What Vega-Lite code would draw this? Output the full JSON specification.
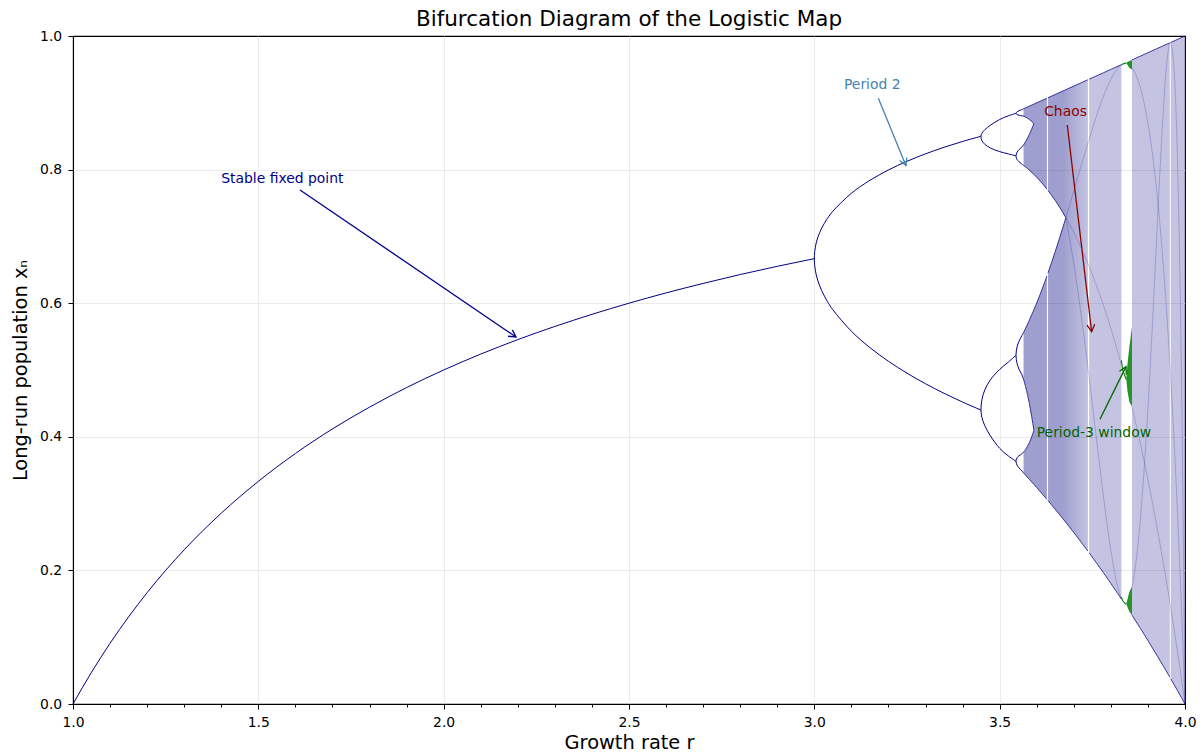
{
  "$schema": "https://vega.github.io/schema/vega-lite/v6.json",
  "width": 1112,
  "height": 668,
  "autosize": {"type": "none"},
  "padding": {"left": 73, "top": 36, "right": 19, "bottom": 49},
  "title": {"text": "Bifurcation Diagram of the Logistic Map", "font": "DejaVu Sans", "fontSize": 21.5, "fontWeight": "normal", "color": "#000000", "offset": -1},
  "config": {
    "view": {"stroke": "#000000", "strokeWidth": 1.1},
    "axis": {"domainColor": "#000000", "domainWidth": 1.1, "tickColor": "#000000", "tickWidth": 1, "labelColor": "#000000", "titleColor": "#000000", "labelFont": "DejaVu Sans", "titleFont": "DejaVu Sans", "labelFontSize": 13.9, "titleFontSize": 19.4, "titleFontWeight": "normal", "gridColor": "#e6e6e6", "gridWidth": 0.8}
  },
  "datasets": {
    "fixed": [{"r":1.0,"x":0},{"r":1.05,"x":0.0476},{"r":1.1,"x":0.0909},{"r":1.2,"x":0.1667},{"r":1.3,"x":0.2308},{"r":1.4,"x":0.2857},{"r":1.5,"x":0.3333},{"r":1.6,"x":0.375},{"r":1.7,"x":0.4118},{"r":1.8,"x":0.4444},{"r":1.9,"x":0.4737},{"r":2.0,"x":0.5},{"r":2.1,"x":0.5238},{"r":2.2,"x":0.5455},{"r":2.3,"x":0.5652},{"r":2.4,"x":0.5833},{"r":2.5,"x":0.6},{"r":2.6,"x":0.6154},{"r":2.7,"x":0.6296},{"r":2.8,"x":0.6429},{"r":2.9,"x":0.6552},{"r":3.0,"x":0.6667}],
    "p2": [{"k":1,"r":3.4495,"x":0.4401},{"k":2,"r":3.4,"x":0.45196},{"k":3,"r":3.35,"x":0.46509},{"k":4,"r":3.3,"x":0.47943},{"k":5,"r":3.25,"x":0.49526},{"k":6,"r":3.2,"x":0.51304},{"k":7,"r":3.15,"x":0.53349},{"k":8,"r":3.1,"x":0.55801},{"k":9,"r":3.05,"x":0.59016},{"k":10,"r":3.035,"x":0.60283},{"k":11,"r":3.02,"x":0.61862},{"k":12,"r":3.01,"x":0.63285},{"k":13,"r":3.005,"x":0.64285},{"k":14,"r":3.001,"x":0.65608},{"k":15,"r":3.0,"x":0.66667},{"k":16,"r":3.001,"x":0.67715},{"k":17,"r":3.005,"x":0.68994},{"k":18,"r":3.01,"x":0.69938},{"k":19,"r":3.02,"x":0.71251},{"k":20,"r":3.035,"x":0.72665},{"k":21,"r":3.05,"x":0.7377},{"k":22,"r":3.1,"x":0.76457},{"k":23,"r":3.15,"x":0.78397},{"k":24,"r":3.2,"x":0.79946},{"k":25,"r":3.25,"x":0.81243},{"k":26,"r":3.3,"x":0.8236},{"k":27,"r":3.35,"x":0.83342},{"k":28,"r":3.4,"x":0.84215},{"k":29,"r":3.4495,"x":0.8499}],
    "p4": [
      {"b":"up","k":1,"r":3.544,"x":0.8206},{"b":"up","k":2,"r":3.52,"x":0.824},{"b":"up","k":3,"r":3.5,"x":0.8269},{"b":"up","k":4,"r":3.475,"x":0.8324},{"b":"up","k":5,"r":3.46,"x":0.8378},{"b":"up","k":6,"r":3.452,"x":0.8436},{"b":"up","k":7,"r":3.4495,"x":0.8499},{"b":"up","k":8,"r":3.452,"x":0.8543},{"b":"up","k":9,"r":3.46,"x":0.8597},{"b":"up","k":10,"r":3.475,"x":0.8665},{"b":"up","k":11,"r":3.5,"x":0.875},{"b":"up","k":12,"r":3.52,"x":0.8798},{"b":"up","k":13,"r":3.544,"x":0.8843},
      {"b":"lo","k":1,"r":3.544,"x":0.3633},{"b":"lo","k":2,"r":3.52,"x":0.3728},{"b":"lo","k":3,"r":3.5,"x":0.3828},{"b":"lo","k":4,"r":3.475,"x":0.4014},{"b":"lo","k":5,"r":3.46,"x":0.4165},{"b":"lo","k":6,"r":3.452,"x":0.4292},{"b":"lo","k":7,"r":3.4495,"x":0.4401},{"b":"lo","k":8,"r":3.452,"x":0.4554},{"b":"lo","k":9,"r":3.46,"x":0.4703},{"b":"lo","k":10,"r":3.475,"x":0.4853},{"b":"lo","k":11,"r":3.5,"x":0.5009},{"b":"lo","k":12,"r":3.52,"x":0.5103},{"b":"lo","k":13,"r":3.544,"x":0.522}
    ],
    "p8": [
      {"b":"T","k":1,"r":3.5644,"x":0.88},{"b":"T","k":2,"r":3.56,"x":0.8805},{"b":"T","k":3,"r":3.552,"x":0.8814},{"b":"T","k":4,"r":3.547,"x":0.8825},{"b":"T","k":5,"r":3.544,"x":0.8843},{"b":"T","k":6,"r":3.547,"x":0.8865},{"b":"T","k":7,"r":3.552,"x":0.888},{"b":"T","k":8,"r":3.56,"x":0.8898},{"b":"T","k":9,"r":3.5644,"x":0.891},
      {"b":"UL","k":1,"r":3.5644,"x":0.806},{"b":"UL","k":2,"r":3.56,"x":0.8083},{"b":"UL","k":3,"r":3.552,"x":0.8118},{"b":"UL","k":4,"r":3.547,"x":0.8151},{"b":"UL","k":5,"r":3.544,"x":0.8206},{"b":"UL","k":6,"r":3.547,"x":0.8261},{"b":"UL","k":7,"r":3.552,"x":0.8298},{"b":"UL","k":8,"r":3.56,"x":0.8339},{"b":"UL","k":9,"r":3.5644,"x":0.837},
      {"b":"LU","k":1,"r":3.5644,"x":0.486},{"b":"LU","k":2,"r":3.56,"x":0.493},{"b":"LU","k":3,"r":3.552,"x":0.5014},{"b":"LU","k":4,"r":3.547,"x":0.5097},{"b":"LU","k":5,"r":3.544,"x":0.522},{"b":"LU","k":6,"r":3.547,"x":0.5347},{"b":"LU","k":7,"r":3.552,"x":0.5428},{"b":"LU","k":8,"r":3.56,"x":0.5516},{"b":"LU","k":9,"r":3.5644,"x":0.556},
      {"b":"LL","k":1,"r":3.5644,"x":0.346},{"b":"LL","k":2,"r":3.56,"x":0.349},{"b":"LL","k":3,"r":3.552,"x":0.3535},{"b":"LL","k":4,"r":3.547,"x":0.3576},{"b":"LL","k":5,"r":3.544,"x":0.3633},{"b":"LL","k":6,"r":3.547,"x":0.3686},{"b":"LL","k":7,"r":3.552,"x":0.3715},{"b":"LL","k":8,"r":3.56,"x":0.3745},{"b":"LL","k":9,"r":3.5644,"x":0.377}
    ],
    "bands_early": [
      {"seg":"T","r":3.5644,"x":0.891,"x2":0.88},{"seg":"T","r":3.57,"x":0.8925,"x2":0.8785},{"seg":"T","r":3.58,"x":0.895,"x2":0.8751},{"seg":"T","r":3.5925,"x":0.8981,"x2":0.8688},
      {"seg":"UL","r":3.5644,"x":0.837,"x2":0.806},{"seg":"UL","r":3.57,"x":0.842,"x2":0.804},{"seg":"UL","r":3.58,"x":0.8526,"x2":0.7992},{"seg":"UL","r":3.5925,"x":0.8688,"x2":0.7927},
      {"seg":"LU","r":3.5644,"x":0.556,"x2":0.486},{"seg":"LU","r":3.57,"x":0.5626,"x2":0.4749},{"seg":"LU","r":3.58,"x":0.5745,"x2":0.4499},{"seg":"LU","r":3.5925,"x":0.5903,"x2":0.4095},
      {"seg":"LL","r":3.5644,"x":0.377,"x2":0.346},{"seg":"LL","r":3.57,"x":0.3811,"x2":0.3425},{"seg":"LL","r":3.58,"x":0.3912,"x2":0.3364},{"seg":"LL","r":3.5925,"x":0.4095,"x2":0.3287},
      {"seg":"U1","r":3.5925,"x":0.8981,"x2":0.7927},{"seg":"U1","r":3.6,"x":0.9,"x2":0.7885},{"seg":"U1","r":3.62,"x":0.905,"x2":0.776},{"seg":"U1","r":3.6275,"x":0.9069,"x2":0.7708},
      {"seg":"L1","r":3.5925,"x":0.5903,"x2":0.3287},{"seg":"L1","r":3.6,"x":0.6004,"x2":0.324},{"seg":"L1","r":3.62,"x":0.6292,"x2":0.3112},{"seg":"L1","r":3.6275,"x":0.6408,"x2":0.3064},
      {"seg":"U2","r":3.6305,"x":0.9076,"x2":0.7687},{"seg":"U2","r":3.64,"x":0.91,"x2":0.7616},{"seg":"U2","r":3.66,"x":0.915,"x2":0.7453},{"seg":"U2","r":3.6786,"x":0.9197,"x2":0.728},
      {"seg":"L2","r":3.6305,"x":0.6455,"x2":0.3044},{"seg":"L2","r":3.64,"x":0.6608,"x2":0.2981},{"seg":"L2","r":3.66,"x":0.6948,"x2":0.2847},{"seg":"L2","r":3.6786,"x":0.728,"x2":0.2718}
    ],
    "band_s1": [
      {"seg":"S1","r":3.6786,"x":0.9197,"x2":0.2718},{"seg":"S1","r":3.7,"x":0.925,"x2":0.2567},{"seg":"S1","r":3.72,"x":0.93,"x2":0.2422},{"seg":"S1","r":3.738,"x":0.9345,"x2":0.2288}
    ],
    "bands_late": [
      {"seg":"S2","r":3.7415,"x":0.9354,"x2":0.2262},{"seg":"S2","r":3.76,"x":0.94,"x2":0.2121},{"seg":"S2","r":3.78,"x":0.945,"x2":0.1965},{"seg":"S2","r":3.8,"x":0.95,"x2":0.1805},{"seg":"S2","r":3.82,"x":0.955,"x2":0.1642},{"seg":"S2","r":3.8284,"x":0.9571,"x2":0.1572},
      {"seg":"S3","r":3.857,"x":0.9643,"x2":0.133},{"seg":"S3","r":3.86,"x":0.965,"x2":0.1304},{"seg":"S3","r":3.88,"x":0.97,"x2":0.1129},{"seg":"S3","r":3.9,"x":0.975,"x2":0.0951},{"seg":"S3","r":3.92,"x":0.98,"x2":0.0768},{"seg":"S3","r":3.94,"x":0.985,"x2":0.0582},{"seg":"S3","r":3.959,"x":0.9898,"x2":0.0402},
      {"seg":"S4","r":3.9615,"x":0.9904,"x2":0.0378},{"seg":"S4","r":3.98,"x":0.995,"x2":0.0198},{"seg":"S4","r":3.99,"x":0.9975,"x2":0.00995},{"seg":"S4","r":4.0,"x":1.0,"x2":0.0}
    ],
    "inner": [
      {"c":"c3a","r":3.6786,"x":0.728},{"c":"c3a","r":3.7,"x":0.706},{"c":"c3a","r":3.72,"x":0.6827},{"c":"c3a","r":3.74,"x":0.6569},{"c":"c3a","r":3.76,"x":0.6283},{"c":"c3a","r":3.78,"x":0.5967},{"c":"c3a","r":3.8,"x":0.5621},{"c":"c3a","r":3.82,"x":0.5242},{"c":"c3a","r":3.8284,"x":0.5072},
      {"c":"c3b","r":3.857,"x":0.4446},{"c":"c3b","r":3.86,"x":0.4376},{"c":"c3b","r":3.87,"x":0.4136},{"c":"c3b","r":3.88,"x":0.3886},{"c":"c3b","r":3.89,"x":0.3626},{"c":"c3b","r":3.9,"x":0.3355},{"c":"c3b","r":3.91,"x":0.3073},{"c":"c3b","r":3.92,"x":0.278},{"c":"c3b","r":3.93,"x":0.2476},{"c":"c3b","r":3.94,"x":0.216},{"c":"c3b","r":3.95,"x":0.1832},{"c":"c3b","r":3.96,"x":0.1492},{"c":"c3b","r":3.97,"x":0.1139},{"c":"c3b","r":3.98,"x":0.0772},{"c":"c3b","r":3.99,"x":0.0393},{"c":"c3b","r":4.0,"x":0.0},
      {"c":"c4a","r":3.6786,"x":0.728},{"c":"c4a","r":3.7,"x":0.7681},{"c":"c4a","r":3.72,"x":0.8058},{"c":"c4a","r":3.74,"x":0.843},{"c":"c4a","r":3.76,"x":0.8781},{"c":"c4a","r":3.78,"x":0.9096},{"c":"c4a","r":3.8,"x":0.9353},{"c":"c4a","r":3.82,"x":0.9528},{"c":"c4a","r":3.8284,"x":0.9569},
      {"c":"c4b","r":3.857,"x":0.9524},{"c":"c4b","r":3.86,"x":0.95},{"c":"c4b","r":3.87,"x":0.9386},{"c":"c4b","r":3.88,"x":0.9219},{"c":"c4b","r":3.89,"x":0.899},{"c":"c4b","r":3.9,"x":0.8695},{"c":"c4b","r":3.91,"x":0.8323},{"c":"c4b","r":3.92,"x":0.7869},{"c":"c4b","r":3.93,"x":0.7322},{"c":"c4b","r":3.94,"x":0.6672},{"c":"c4b","r":3.95,"x":0.5911},{"c":"c4b","r":3.96,"x":0.5026},{"c":"c4b","r":3.97,"x":0.4005},{"c":"c4b","r":3.98,"x":0.2837},{"c":"c4b","r":3.99,"x":0.1507},{"c":"c4b","r":4.0,"x":0.0},
      {"c":"c5a","r":3.6786,"x":0.728},{"c":"c5a","r":3.7,"x":0.6591},{"c":"c5a","r":3.72,"x":0.5821},{"c":"c5a","r":3.74,"x":0.4951},{"c":"c5a","r":3.76,"x":0.4024},{"c":"c5a","r":3.78,"x":0.3107},{"c":"c5a","r":3.8,"x":0.2298},{"c":"c5a","r":3.82,"x":0.1719},{"c":"c5a","r":3.8284,"x":0.1579},
      {"c":"c5b","r":3.857,"x":0.1748},{"c":"c5b","r":3.86,"x":0.1834},{"c":"c5b","r":3.87,"x":0.2229},{"c":"c5b","r":3.88,"x":0.2795},{"c":"c5b","r":3.89,"x":0.3531},{"c":"c5b","r":3.9,"x":0.4426},{"c":"c5b","r":3.91,"x":0.5456},{"c":"c5b","r":3.92,"x":0.6574},{"c":"c5b","r":3.93,"x":0.7707},{"c":"c5b","r":3.94,"x":0.8748},{"c":"c5b","r":3.95,"x":0.9547},{"c":"c5b","r":3.96,"x":0.99},{"c":"c5b","r":3.97,"x":0.9532},{"c":"c5b","r":3.98,"x":0.8088},{"c":"c5b","r":3.99,"x":0.5106},{"c":"c5b","r":4.0,"x":0.0}
    ],
    "green_lines": [
      {"b":"top","r":3.8284,"x":0.9563},{"b":"top","r":3.8319,"x":0.958},{"b":"top","r":3.84,"x":0.9594},{"b":"top","r":3.8415,"x":0.9594},
      {"b":"mid","r":3.8284,"x":0.5144},{"b":"mid","r":3.8319,"x":0.5},{"b":"mid","r":3.84,"x":0.488},{"b":"mid","r":3.8415,"x":0.486},
      {"b":"bot","r":3.8284,"x":0.1599},{"b":"bot","r":3.8319,"x":0.1545},{"b":"bot","r":3.84,"x":0.1497},{"b":"bot","r":3.8415,"x":0.1497}
    ],
    "green_areas": [
      {"b":"top","r":3.8415,"x":0.9594,"x2":0.9594},{"b":"top","r":3.845,"x":0.9612,"x2":0.9565},{"b":"top","r":3.85,"x":0.9625,"x2":0.952},{"b":"top","r":3.857,"x":0.9642,"x2":0.95},
      {"b":"mid","r":3.8415,"x":0.486,"x2":0.486},{"b":"mid","r":3.845,"x":0.51,"x2":0.468},{"b":"mid","r":3.85,"x":0.535,"x2":0.452},{"b":"mid","r":3.857,"x":0.565,"x2":0.445},
      {"b":"bot","r":3.8415,"x":0.1497,"x2":0.1497},{"b":"bot","r":3.845,"x":0.157,"x2":0.145},{"b":"bot","r":3.85,"x":0.168,"x2":0.138},{"b":"bot","r":3.857,"x":0.176,"x2":0.133}
    ],
    "ann_text": [
      {"label":"Stable fixed point","r":1.4,"x":0.78},
      {"label":"Period 2","r":3.08,"x":0.92},
      {"label":"Chaos","r":3.62,"x":0.88},
      {"label":"Period-3 window","r":3.6,"x":0.4}
    ],
    "ann_arrow": [
      {"label":"Stable fixed point","r":1.6124,"x":0.7695,"r2":2.1951,"x2":0.5494},
      {"label":"Period 2","r":3.1727,"x":0.9067,"r2":3.2471,"x2":0.8063},
      {"label":"Chaos","r":3.6824,"x":0.8668,"r2":3.7481,"x2":0.5573},
      {"label":"Period-3 window","r":3.7706,"x":0.4262,"r2":3.8408,"x2":0.505}
    ]
  },
  "encoding": {
    "x": {"field": "r", "type": "quantitative", "scale": {"domain": [1, 4], "nice": false, "zero": false},
      "axis": {"title": "Growth rate r", "values": [1.0,1.1,1.2,1.3,1.4,1.5,1.6,1.7,1.8,1.9,2.0,2.1,2.2,2.3,2.4,2.5,2.6,2.7,2.8,2.9,3.0,3.1,3.2,3.3,3.4,3.5,3.6,3.7,3.8,3.9,4.0],
        "labelExpr": "abs(datum.value*2 - round(datum.value*2)) < 0.001 ? format(datum.value, '.1f') : ''",
        "tickSize": {"condition": {"test": "abs(datum.value*2 - round(datum.value*2)) < 0.001", "value": 5}, "value": 3},
        "gridOpacity": {"condition": {"test": "abs(datum.value*2 - round(datum.value*2)) < 0.001 && datum.value > 1.01 && datum.value < 3.99", "value": 1}, "value": 0},
        "grid": true, "labelFlush": false, "labelOverlap": false, "labelPadding": 6.5, "titlePadding": 4.5}},
    "y": {"field": "x", "type": "quantitative", "scale": {"domain": [0, 1], "nice": false, "zero": false},
      "axis": {"title": "Long-run population xₙ", "values": [0, 0.2, 0.4, 0.6, 0.8, 1.0], "format": ".1f", "grid": true,
        "gridOpacity": {"condition": {"test": "datum.value > 0.01 && datum.value < 0.99", "value": 1}, "value": 0},
        "tickSize": 5, "labelPadding": 6.3, "titlePadding": 9.5}}
  },
  "layer": [
    {"data": {"name": "bands_early"}, "mark": {"type": "area", "interpolate": "monotone", "color": "#000080", "opacity": 0.38}, "encoding": {"y2": {"field": "x2"}, "detail": {"field": "seg"}}},
    {"data": {"name": "band_s1"}, "mark": {"type": "area", "interpolate": "monotone", "color": {"gradient": "linear", "x1": 0, "y1": 0, "x2": 1, "y2": 0, "stops": [{"offset": 0, "color": "rgba(0,0,128,0.36)"}, {"offset": 1, "color": "rgba(0,0,128,0.24)"}]}}, "encoding": {"y2": {"field": "x2"}, "detail": {"field": "seg"}}},
    {"data": {"name": "bands_late"}, "mark": {"type": "area", "interpolate": "monotone", "color": "#000080", "opacity": 0.23}, "encoding": {"y2": {"field": "x2"}, "detail": {"field": "seg"}}},
    {"data": {"name": "inner"}, "mark": {"type": "line", "interpolate": "monotone", "color": "#000080", "opacity": 0.2, "strokeWidth": 1}, "encoding": {"detail": {"field": "c"}}},
    {"data": {"name": "bands_early"}, "mark": {"type": "line", "interpolate": "monotone", "color": "#000080", "opacity": 0.75, "strokeWidth": 1}, "encoding": {"detail": {"field": "seg"}}},
    {"data": {"name": "bands_early"}, "mark": {"type": "line", "interpolate": "monotone", "color": "#000080", "opacity": 0.75, "strokeWidth": 1}, "encoding": {"y": {"field": "x2", "type": "quantitative", "scale": {"domain": [0, 1], "nice": false, "zero": false}}, "detail": {"field": "seg"}}},
    {"data": {"name": "band_s1"}, "mark": {"type": "line", "interpolate": "monotone", "color": "#000080", "opacity": 0.75, "strokeWidth": 1}, "encoding": {"detail": {"field": "seg"}}},
    {"data": {"name": "band_s1"}, "mark": {"type": "line", "interpolate": "monotone", "color": "#000080", "opacity": 0.75, "strokeWidth": 1}, "encoding": {"y": {"field": "x2", "type": "quantitative", "scale": {"domain": [0, 1], "nice": false, "zero": false}}, "detail": {"field": "seg"}}},
    {"data": {"name": "bands_late"}, "mark": {"type": "line", "interpolate": "monotone", "color": "#000080", "opacity": 0.75, "strokeWidth": 1}, "encoding": {"detail": {"field": "seg"}}},
    {"data": {"name": "bands_late"}, "mark": {"type": "line", "interpolate": "monotone", "color": "#000080", "opacity": 0.75, "strokeWidth": 1}, "encoding": {"y": {"field": "x2", "type": "quantitative", "scale": {"domain": [0, 1], "nice": false, "zero": false}}, "detail": {"field": "seg"}}},
    {"data": {"name": "fixed"}, "mark": {"type": "line", "interpolate": "monotone", "color": "#000080", "strokeWidth": 1}, "encoding": {}},
    {"data": {"name": "p2"}, "mark": {"type": "line", "interpolate": "catmull-rom", "color": "#000080", "strokeWidth": 1}, "encoding": {"order": {"field": "k", "type": "quantitative"}}},
    {"data": {"name": "p4"}, "mark": {"type": "line", "interpolate": "catmull-rom", "color": "#000080", "strokeWidth": 1}, "encoding": {"detail": {"field": "b"}, "order": {"field": "k", "type": "quantitative"}}},
    {"data": {"name": "p8"}, "mark": {"type": "line", "interpolate": "catmull-rom", "color": "#000080", "strokeWidth": 1}, "encoding": {"detail": {"field": "b"}, "order": {"field": "k", "type": "quantitative"}}},
    {"data": {"name": "green_areas"}, "mark": {"type": "area", "color": "#008000", "opacity": 0.85}, "encoding": {"y2": {"field": "x2"}, "detail": {"field": "b"}}},
    {"data": {"name": "green_lines"}, "mark": {"type": "line", "color": "#008000", "strokeWidth": 1.1}, "encoding": {"detail": {"field": "b"}}},
    {"data": {"name": "ann_arrow"}, "mark": {"type": "rule", "strokeWidth": 1.3}, "encoding": {"x2": {"field": "r2"}, "y2": {"field": "x2"},
      "color": {"field": "label", "type": "nominal", "scale": {"domain": ["Stable fixed point", "Period 2", "Chaos", "Period-3 window"], "range": ["#00008b", "#4682b4", "#8b0000", "#006400"]}, "legend": null}}},
    {"data": {"values": [{"r": 2.1951, "x": 0.5494}]}, "mark": {"type": "point", "shape": "M-0.55,1L0,0L0.55,1", "angle": 124.2, "size": 196, "filled": false, "color": "#00008b", "strokeWidth": 1.3, "opacity": 1}, "encoding": {}},
    {"data": {"values": [{"r": 3.2471, "x": 0.8063}]}, "mark": {"type": "point", "shape": "M-0.55,1L0,0L0.55,1", "angle": 157.5, "size": 196, "filled": false, "color": "#4682b4", "strokeWidth": 1.3, "opacity": 1}, "encoding": {}},
    {"data": {"values": [{"r": 3.7481, "x": 0.5573}]}, "mark": {"type": "point", "shape": "M-0.55,1L0,0L0.55,1", "angle": 173.3, "size": 196, "filled": false, "color": "#8b0000", "strokeWidth": 1.3, "opacity": 1}, "encoding": {}},
    {"data": {"values": [{"r": 3.8408, "x": 0.505}]}, "mark": {"type": "point", "shape": "M-0.55,1L0,0L0.55,1", "angle": 26.3, "size": 196, "filled": false, "color": "#006400", "strokeWidth": 1.3, "opacity": 1}, "encoding": {}},
    {"data": {"name": "ann_text"}, "mark": {"type": "text", "align": "left", "baseline": "alphabetic", "font": "DejaVu Sans", "fontSize": 13.9}, "encoding": {"text": {"field": "label"},
      "color": {"field": "label", "type": "nominal", "scale": {"domain": ["Stable fixed point", "Period 2", "Chaos", "Period-3 window"], "range": ["#00008b", "#4682b4", "#8b0000", "#006400"]}, "legend": null}}}
  ]
}
